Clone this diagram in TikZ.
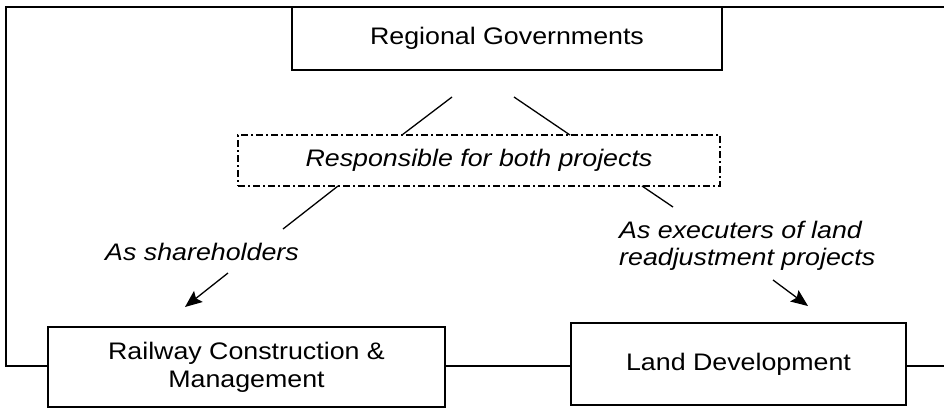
\documentclass[tikz,border=0pt]{standalone}
\usepackage{fontspec}
\setmainfont{Liberation Sans}[FakeStretch=1.12]
\usetikzlibrary{arrows.meta}
\begin{document}
\begin{tikzpicture}[x=1bp,y=-1bp,
  every node/.style={font=\fontsize{24}{28}\selectfont, inner sep=0pt},
  box/.style={draw, line width=1.3bp, rectangle},
  lbl/.style={font=\fontsize{24}{27}\selectfont\itshape},
  ln/.style={line width=1.3bp},
  arr/.style={line width=1.3bp, -{Stealth[length=17bp,width=14bp,inset=3bp]}},
  dd/.style={draw, line width=1.2bp, dash pattern=on 7bp off 3bp on 2bp off 3bp}]
\useasboundingbox (0,0) rectangle (944,409);
\node[box, minimum width=430bp, minimum height=63bp] (rg) at (507,38.5) {Regional Governments};
\node[dd, minimum width=482bp, minimum height=51bp] (resp) at (479,160.5) {\itshape Responsible for both projects};
\node[box, minimum width=397bp, minimum height=80bp, align=center] (rail) at (246.5,367) {Railway Construction \&\\Management};
\node[box, minimum width=335bp, minimum height=82bp] (land) at (738.5,364) {Land Development};
\node[lbl] (sh) at (202,252) {As shareholders};
\node[lbl, anchor=west, align=left] (ex) at (619,245.5) {As executers of land\\readjustment projects};
% frame
\coordinate (yl) at (0,366);
\coordinate (fl) at (6,366);
\coordinate (ft) at (6,7);
\coordinate (fr) at (944,7);
\coordinate (br) at (944,366);
\draw[ln] (rail.west |- yl) -- (fl) -- (ft) -- (fr);
\draw[ln] (rail.east |- yl) -- (land.west |- yl);
\draw[ln] (land.east |- yl) -- (br);
% connector pieces
\coordinate (a1) at (452,97);  \coordinate (a2) at (402,135);
\coordinate (b1) at (514,97);  \coordinate (b2) at (570,135);
\coordinate (c1) at (338,186); \coordinate (c2) at (283,229);
\coordinate (d1) at (642,186); \coordinate (d2) at (673,207);
\coordinate (e1) at (228,273); \coordinate (e2) at (185,307);
\coordinate (f1) at (773,280); \coordinate (f2) at (808,306);
\draw[ln] (a1) -- (a2);
\draw[ln] (b1) -- (b2);
\draw[ln] (c1) -- (c2);
\draw[ln] (d1) -- (d2);
\draw[arr] (e1) -- (e2);
\draw[arr] (f1) -- (f2);
\end{tikzpicture}
\end{document}
